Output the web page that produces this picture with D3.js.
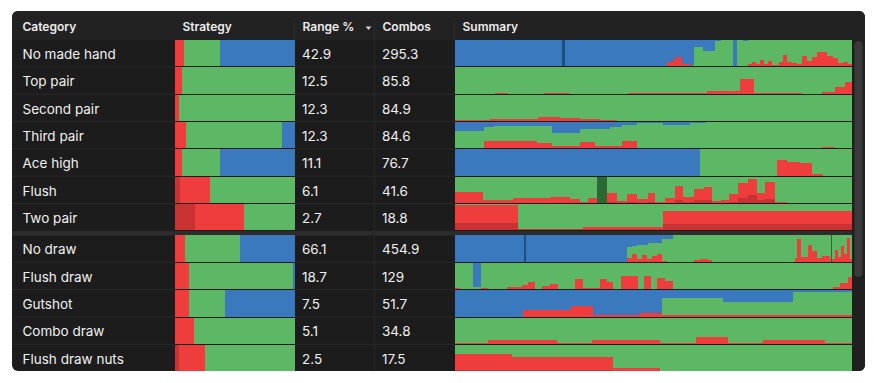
<!DOCTYPE html>
<html><head><meta charset="utf-8">
<script src="https://cdn.jsdelivr.net/npm/d3@7"></script>
<style>html,body{margin:0;padding:0;background:#fff;} svg{display:block;font-family:Inter,"Noto Sans",sans-serif;}</style>
</head><body><svg id="chart" width="874" height="383"></svg>
<script>
// ---------------- data ----------------
const columns = ["Category", "Strategy", "Range %", "Combos", "Summary"];
const categories = ["No made hand", "Top pair", "Second pair", "Third pair", "Ace high", "Flush", "Two pair",
  "No draw", "Flush draw", "Gutshot", "Combo draw", "Flush draw nuts"];
const sectionOf = [0, 0, 0, 0, 0, 0, 0, 1, 1, 1, 1, 1];
const rangePct = ["42.9", "12.5", "12.3", "12.3", "11.1", "6.1", "2.7", "66.1", "18.7", "7.5", "5.1", "2.5"];
const combos = ["295.3", "85.8", "84.9", "84.6", "76.7", "41.6", "18.8", "454.9", "129", "51.7", "34.8", "17.5"];

// action shares (percent); check = remainder
const actionKeys = ["bigBet", "bet", "check", "fold"];
const strategyBigBet = [0, 0, 0, 0, 0, 4, 16.5, 0, 0, 0, 0, 3];
const strategyBet    = [7.5, 6, 3.5, 9, 5.5, 25, 41, 8, 11.5, 11.5, 16, 22];
const strategyFold   = [62.5, 0, 0, 11, 62.5, 0, 0, 46, 2, 58.5, 0, 0];

// summary: [segment end (% of range), bigBet, bet, fold]; check = remainder
const summaryNoMadeHand = [[53.4,0,0,100],[54.7,0,15,85],[55.9,0,28,72],[57.2,0,37,63],[58.7,0,10,90],[60,0,5,95],
  [62.5,0,3,25],[65.5,0,3,40],[66.8,0,3,5],[70,0,3,0],[71,0,0,100],[72.5,0,0,0],[73.8,0,0,5],[74.8,0,8,0],[75.8,0,18,0],
  [76.8,0,8,0],[77.8,0,25,0],[78.8,0,10,0],[79.8,0,20,0],[81.4,0,6,0],[82.4,0,15,0],[83.6,0,42,0],[84.9,0,18,0],
  [86.1,0,12,0],[87.4,0,8,0],[88.7,0,40,0],[89.9,0,22,0],[91.2,0,35,0],[93.7,0,55,0],[95.2,0,38,0],[96.5,0,30,0],
  [97.7,0,12,0],[99,0,18,0],[100,0,8,0]];
const summaryTopPair = [[10.1,0,0,0],[13.4,0,4,0],[22.2,0,0,0],[29,0,4,0],[43.6,0,0,0],[63.5,0,3,0],[71.8,0,11,0],
  [75.3,0,57,0],[84.9,0,1,0],[87.4,0,3,0],[92.4,0,0,0],[95.7,0,8,0],[98.2,0,25,0],[100,0,46,0]];
const summarySecondPair = [[8.8,0,4,0],[15.1,0,6,0],[20.7,0,9,0],[26.4,0,15,0],[31.5,0,12,0],[36.5,0,6,0],[40.8,0,3,0],[100,0,0,0]];
const summaryThirdPair = [[7.1,0,3,33],[9.6,0,28,20],[20.7,0,28,15],[24.4,0,20,15],[31.5,0,8,40],[35.3,0,25,28],
  [39,0,8,25],[42,0,8,18],[45.8,0,28,12],[52.4,0,3,4],[59.2,0,0,12],[63,0,0,4],[92.4,0,0,0],[95.7,0,4,0],[100,0,0,0]];
const summaryAceHigh = [[61.7,0,0,100],[81.1,0,0,0],[83.6,0,60,0],[86.9,0,53,0],[89.9,0,48,0],[92.7,0,8,0],[100,0,0,0]];
const summaryFlush = [[7.1,0,42,0],[14.4,0,10,0],[23.9,0,18,0],[29,0,22,0],[31.5,0,15,0],[33.5,0,3,0],[35.8,0,18,0],
  [38.3,0,0,0],[40.8,5,35,0],[43.3,0,8,0],[45.8,5,30,0],[48.4,0,15,0],[50.4,5,35,0],[52.9,0,5,0],[55.4,0,20,0],
  [57.4,10,55,0],[60,5,20,0],[62.5,10,45,0],[64.7,10,52,0],[66.8,0,8,0],[68.8,0,10,0],[71.3,5,30,0],[73.6,20,55,0],
  [76.1,30,60,0],[78.1,10,30,0],[80.6,15,65,0],[83.6,0,3,0],[100,0,1,0]];
const summaryTwoPair = [[15.9,30,65,0],[32.2,5,0,0],[52.4,5,7,0],[100,25,48,0]];
const summaryNoDraw = [[43.3,0,0,100],[44.6,0,15,45],[45.8,0,28,40],[47.1,0,12,38],[48.4,0,25,35],[49.6,0,10,30],
  [50.9,0,22,28],[52.1,0,28,28],[53.4,0,3,12],[54.7,0,0,15],[60,0,0,0],[61.7,0,6,0],[63.7,0,12,0],[64.7,0,5,0],
  [85.6,0,1,0],[86.1,0,15,0],[87.2,0,88,0],[88.7,0,20,0],[89.9,0,65,0],[91.2,0,40,0],[92.4,0,15,0],[94.5,0,22,0],
  [95.7,0,10,0],[96.5,0,45,0],[97.2,0,20,0],[98,0,60,0],[98.7,0,30,0],[99.5,0,90,0],[100,0,10,0]];
const summaryFlushDraw = [[1.3,0,5,0],[4.5,0,0,0],[6.5,0,0,92],[8.3,0,5,0],[13.1,0,0,0],[16.9,0,8,0],[18.4,0,15,0],
  [20.2,0,28,0],[21.9,0,2,0],[23.9,0,12,0],[25.9,0,18,0],[30.2,0,2,0],[32.2,0,38,0],[36.5,0,3,0],[38.3,0,38,0],
  [39.8,0,28,0],[41.6,0,2,0],[46.1,0,50,0],[47.4,0,2,0],[49.4,0,50,0],[50.9,0,2,0],[52.9,0,42,0],[54.9,0,30,0],
  [95,0,1,0],[97,0,8,0],[99,0,25,0],[100,0,45,0]];
const summaryGutshot = [[17.1,0,0,100],[29,0,25,75],[34.8,0,40,60],[46.6,0,5,95],[52.1,0,12,88],[67.5,0,4,31],[85.1,0,4,44],[100,0,5,8]];
const summaryComboDraw = [[8.3,0,5,0],[25.7,0,15,0],[34.5,0,5,0],[51.6,0,15,0],[60.5,0,5,0],[68.8,0,25,0],[77.6,0,5,0],[93.2,0,15,0],[100,0,5,0]];
const summaryFlushDrawNuts = [[14.4,5,60,0],[39.8,5,50,0],[51.6,0,12,0],[100,0,0,0]];
const summaryRows = [summaryNoMadeHand, summaryTopPair, summarySecondPair, summaryThirdPair, summaryAceHigh, summaryFlush,
  summaryTwoPair, summaryNoDraw, summaryFlushDraw, summaryGutshot, summaryComboDraw, summaryFlushDrawNuts];
// highlighted hands in summary: [row, start, end, kind]
const summaryMarkers = [[0, 27.0, 27.8, "fold"], [5, 35.8, 38.3, "check"], [7, 17.3, 17.8, "fold"], [7, 94.6, 94.9, "check"]];

// ---------------- style ----------------
const colors = {bigBet: "#c93232", bet: "#ef3c3c", check: "#5cb864", fold: "#3b79be"};
const darkColors = {fold: "#1d5080", check: "#2b6834", bet: "#a02525"};
const P = {x0: 12, y0: 11, x1: 865, y1: 371};
const headerBottom = 40, rowH = 27.35, sectionGap = 4;
const colStart = [12, 175, 295, 375, 455];
const summaryEnd = 852;

const svg = d3.select("#chart");
const defs = svg.append("defs");
defs.append("clipPath").attr("id", "panelClip").append("rect")
  .attr("x", P.x0).attr("y", P.y0).attr("width", P.x1 - P.x0).attr("height", P.y1 - P.y0).attr("rx", 6);

const g = svg.append("g").attr("clip-path", "url(#panelClip)");
g.append("rect").attr("x", P.x0).attr("y", P.y0).attr("width", P.x1 - P.x0).attr("height", P.y1 - P.y0).attr("fill", "#1c1c1c");
g.append("rect").attr("x", P.x0).attr("y", P.y0).attr("width", P.x1 - P.x0).attr("height", headerBottom - P.y0).attr("fill", "#222222");

const rowTop = i => headerBottom + i * rowH + (sectionOf[i] ? sectionGap : 0);

// header
const header = g.append("g");
header.selectAll("text").data(columns).join("text")
  .attr("x", (d, i) => colStart[i] + (i === 0 ? 10.5 : 7.5)).attr("y", (headerBottom + P.y0) / 2 + 1.8)
  .attr("dominant-baseline", "middle").attr("fill", "#ececec")
  .attr("font-size", 12).attr("font-weight", 600).text(d => d);
header.selectAll("line.hsep").data([295, 375, 455]).join("line").attr("class", "hsep")
  .attr("x1", d => d - 0.5).attr("x2", d => d - 0.5).attr("y1", P.y0 + 6).attr("y2", headerBottom)
  .attr("stroke", "#2c2c2c");
header.append("path").attr("d", "M365.5,26.5 L371.5,26.5 L368.5,30 Z").attr("fill", "#cfcfcf");

// section separator
g.append("rect").attr("x", P.x0).attr("width", summaryEnd - P.x0)
  .attr("y", rowTop(6) + rowH - 0.5).attr("height", rowTop(7) - rowTop(6) - rowH + 0.5).attr("fill", "#2d2d2d");

// row separators in text columns
const rowsG = g.append("g");
categories.forEach((c, i) => {
  const yb = rowTop(i) + rowH - 0.5;
  if (i !== 6) {
    rowsG.append("line").attr("x1", P.x0).attr("x2", 175).attr("y1", yb).attr("y2", yb).attr("stroke", "#292929");
    rowsG.append("line").attr("x1", 295).attr("x2", 455).attr("y1", yb).attr("y2", yb).attr("stroke", "#292929");
  }
});
rowsG.append("line").attr("x1", 374.5).attr("x2", 374.5).attr("y1", headerBottom).attr("y2", P.y1).attr("stroke", "#272727");

// text cells
const textCols = [[categories, 22.5], [rangePct, 302], [combos, 382]];
textCols.forEach(([arr, x]) => {
  rowsG.append("g").selectAll("text").data(arr).join("text")
    .attr("x", x).attr("y", (d, i) => rowTop(i) + rowH / 2 + 1.5)
    .attr("dominant-baseline", "middle").attr("fill", "#f0f0f0").attr("font-size", 13.5).text(d => d);
});

// strategy bars
const xStrat = d3.scaleLinear().domain([0, 100]).range([175, 295]);
const stratData = categories.map((c, i) => ({
  bigBet: strategyBigBet[i], bet: strategyBet[i], fold: strategyFold[i],
  check: 100 - strategyBigBet[i] - strategyBet[i] - strategyFold[i], row: i}));
const hStack = d3.stack().keys(actionKeys)(stratData);
const stratG = g.append("g").attr("shape-rendering", "crispEdges");
hStack.forEach(layer => {
  stratG.selectAll(null).data(layer).join("rect")
    .attr("x", d => xStrat(d[0])).attr("width", d => Math.max(0, xStrat(d[1]) - xStrat(d[0])))
    .attr("y", d => rowTop(d.data.row)).attr("height", rowH - 1)
    .attr("fill", colors[layer.key]);
});

// summary step charts
const xSum = d3.scaleLinear().domain([0, 100]).range([455, summaryEnd]);
const sumG = g.append("g").attr("shape-rendering", "crispEdges");
summaryRows.forEach((segs, i) => {
  const data = segs.map((s, j) => ({
    start: j === 0 ? 0 : segs[j - 1][0], end: s[0],
    bigBet: s[1], bet: s[2], fold: s[3], check: Math.max(0, 100 - s[1] - s[2] - s[3])}));
  const y = d3.scaleLinear().domain([0, 100]).range([rowTop(i) + rowH - 1, rowTop(i)]);
  const st = d3.stack().keys(actionKeys)(data);
  st.forEach(layer => {
    sumG.append("g").selectAll("rect").data(layer.filter(d => d[1] > d[0])).join("rect")
      .attr("x", d => xSum(d.data.start)).attr("width", d => xSum(d.data.end) - xSum(d.data.start) + 0.4)
      .attr("y", d => y(d[1])).attr("height", d => y(d[0]) - y(d[1]))
      .attr("fill", colors[layer.key]);
  });
});
sumG.append("g").selectAll("rect").data(summaryMarkers).join("rect")
  .attr("x", d => xSum(d[1])).attr("width", d => Math.max(1, xSum(d[2]) - xSum(d[1])))
  .attr("y", d => rowTop(d[0])).attr("height", rowH - 1).attr("fill", d => darkColors[d[3]]);

// scrollbar
g.append("rect").attr("x", summaryEnd).attr("y", headerBottom).attr("width", P.x1 - summaryEnd).attr("height", P.y1 - headerBottom).attr("fill", "#202020");
g.append("rect").attr("x", summaryEnd + 2.5).attr("y", headerBottom + 1).attr("width", 8).attr("height", 236).attr("rx", 4).attr("fill", "#3a3a3a");
</script></body></html>
